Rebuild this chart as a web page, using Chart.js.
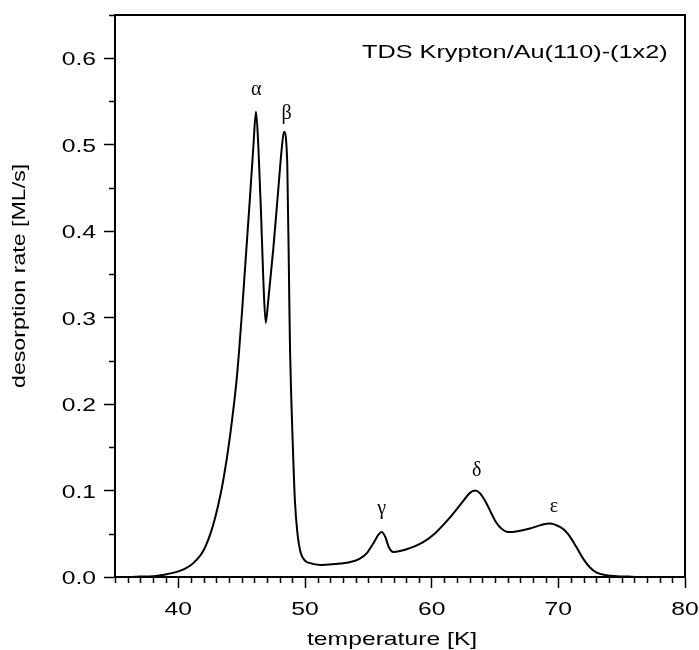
<!DOCTYPE html>
<html>
<head>
<meta charset="utf-8">
<script src="https://cdn.jsdelivr.net/npm/chart.js@4"></script>
<style>
  html, body { margin: 0; padding: 0; background: #fff; }
  #wrap { width: 699px; height: 650px; }
</style>
</head>
<body>
<div id="wrap"><canvas id="tds"></canvas></div>
<script>
// temperature [K]
const temps = [35, 36, 37, 38, 38.5, 39, 39.5, 40, 40.5, 41, 41.45, 42, 42.6, 43.1, 43.55, 44.08, 44.6, 44.8,
  45.02, 45.66, 45.92, 46.13, 46.32, 46.53, 46.71, 46.9, 47.1, 47.5, 47.9, 48.16, 48.34, 48.6, 48.76, 48.82,
  48.92, 49.02, 49.2, 49.4, 49.66, 50.0, 50.4, 51.2, 52.3, 53.5, 54.3, 54.9, 55.4, 55.8, 56.05, 56.35,
  56.6, 56.97, 57.5, 58.2, 59.3, 60.3, 61.4, 62.5, 63.0, 63.42, 63.8, 64.3, 64.7, 65.1, 65.5, 66.03,
  66.8, 67.76, 68.6, 69.34, 70.13, 70.5, 71.0, 71.45, 71.97, 72.5, 73.03, 73.8, 74.6, 75.5, 77, 80];
// desorption rate [ML/s]
const rates = [0, 0, 0.0005, 0.001, 0.0018, 0.003, 0.0045, 0.0065, 0.0095, 0.0138, 0.02, 0.031, 0.053, 0.08, 0.112, 0.163, 0.228, 0.262,
  0.305, 0.44, 0.497, 0.538, 0.497, 0.42, 0.344, 0.294, 0.32, 0.38, 0.45, 0.495, 0.515, 0.478, 0.32, 0.262,
  0.205, 0.16, 0.089, 0.051, 0.028, 0.019, 0.016, 0.014, 0.015, 0.017, 0.021, 0.028, 0.039, 0.049, 0.052, 0.046,
  0.035, 0.029, 0.03, 0.033, 0.04, 0.051, 0.068, 0.088, 0.097, 0.1, 0.097, 0.086, 0.074, 0.063, 0.056, 0.052,
  0.053, 0.056, 0.06, 0.062, 0.058, 0.054, 0.045, 0.034, 0.021, 0.011, 0.005, 0.002, 0.001, 0.0005, 0, 0];

const xTicks = [40, 50, 60, 70, 80];
const yTicks = [0, 0.1, 0.2, 0.3, 0.4, 0.5, 0.6];

// peak labels (greek letters), centre of each glyph in data units
const peakNames = ["α", "β", "γ", "δ", "ε"];
const peakT = [46.16, 48.55, 56.05, 63.56, 69.65];
const peakY = [0.563, 0.536, 0.076, 0.126, 0.081];

const titleText = "TDS Krypton/Au(110)-(1x2)";
const xTitle = "temperature [K]";
const yTitle = "desorption rate [ML/s]";

const sansFont = "19px 'Liberation Sans', Arial, sans-serif";
const STRETCH = 1.3; // the original lettering is drawn wide

function wideText(ctx, text, x, y, align, sx, angle) {
  ctx.save();
  ctx.translate(x, y);
  if (angle) ctx.rotate(angle);
  ctx.scale(sx, 1);
  ctx.textAlign = align;
  ctx.fillText(text, 0, 0);
  ctx.restore();
}

// minor ticks, box and all the lettering
const extras = {
  id: "extras",
  afterDraw(chart) {
    const ctx = chart.ctx;
    const area = chart.chartArea;
    const xs = chart.scales.x;
    const ys = chart.scales.y;
    ctx.save();
    ctx.strokeStyle = "#000";
    ctx.lineWidth = 2;
    // box top and right
    ctx.beginPath();
    ctx.moveTo(area.left, area.top);
    ctx.lineTo(area.right, area.top);
    ctx.lineTo(area.right, area.bottom);
    ctx.stroke();
    // minor ticks
    ctx.lineWidth = 1.5;
    ctx.beginPath();
    for (let t = 35; t <= 80; t++) {
      if (t % 10 === 0) continue;
      const px = Math.round(xs.getPixelForValue(t)) + 0.5;
      ctx.moveTo(px, area.bottom);
      ctx.lineTo(px, area.bottom + 6);
    }
    for (let v = 0.05; v < 0.65; v += 0.1) {
      const py = Math.round(ys.getPixelForValue(v)) + 0.5;
      ctx.moveTo(area.left, py);
      ctx.lineTo(area.left - 6, py);
    }
    ctx.stroke();

    ctx.fillStyle = "#000";
    ctx.font = sansFont;
    ctx.textBaseline = "alphabetic";
    // tick labels
    yTicks.forEach(v => {
      wideText(ctx, v.toFixed(1), area.left - 19, ys.getPixelForValue(v) + 7, "right", STRETCH);
    });
    xTicks.forEach(v => {
      wideText(ctx, String(v), xs.getPixelForValue(v), area.bottom + 38, "center", STRETCH);
    });
    // title in plot
    wideText(ctx, titleText, area.left + 247, area.top + 43, "left", 1.33);
    // axis titles
    wideText(ctx, xTitle, area.left + 192, area.bottom + 68, "left", STRETCH);
    wideText(ctx, yTitle, 25, area.bottom - 189, "left", 1.22, -Math.PI / 2);

    // greek labels, centred on their ink
    ctx.font = "20px 'Liberation Serif', 'Times New Roman', serif";
    ctx.textAlign = "center";
    peakNames.forEach((name, i) => {
      const m = ctx.measureText(name);
      const off = (m.actualBoundingBoxAscent - m.actualBoundingBoxDescent) / 2;
      ctx.fillText(name, xs.getPixelForValue(peakT[i]), ys.getPixelForValue(peakY[i]) + off);
    });
    ctx.restore();
  }
};

new Chart(document.getElementById("tds"), {
  type: "line",
  data: {
    datasets: [{
      data: temps.map((t, i) => ({ x: t, y: rates[i] })),
      borderColor: "#000",
      borderWidth: 2,
      pointRadius: 0,
      fill: false,
      cubicInterpolationMode: "monotone"
    }]
  },
  options: {
    responsive: true,
    maintainAspectRatio: false,
    animation: false,
    layout: { padding: { top: 15, right: 14, left: 0, bottom: 0 } },
    plugins: { legend: { display: false }, tooltip: { enabled: false } },
    scales: {
      x: {
        type: "linear",
        min: 35,
        max: 80,
        afterBuildTicks: s => { s.ticks = xTicks.map(v => ({ value: v })); },
        afterFit: s => { s.height = 73; },
        grid: { drawOnChartArea: false, drawTicks: true, tickLength: 11, tickWidth: 1.5, tickColor: "#000" },
        border: { display: true, color: "#000", width: 2 },
        ticks: { display: false }
      },
      y: {
        min: 0,
        max: 0.65,
        afterBuildTicks: s => { s.ticks = yTicks.map(v => ({ value: v })); },
        afterFit: s => { s.width = 115; },
        grid: { drawOnChartArea: false, drawTicks: true, tickLength: 11, tickWidth: 1.5, tickColor: "#000" },
        border: { display: true, color: "#000", width: 2 },
        ticks: { display: false }
      }
    }
  },
  plugins: [extras]
});
</script>
</body>
</html>
